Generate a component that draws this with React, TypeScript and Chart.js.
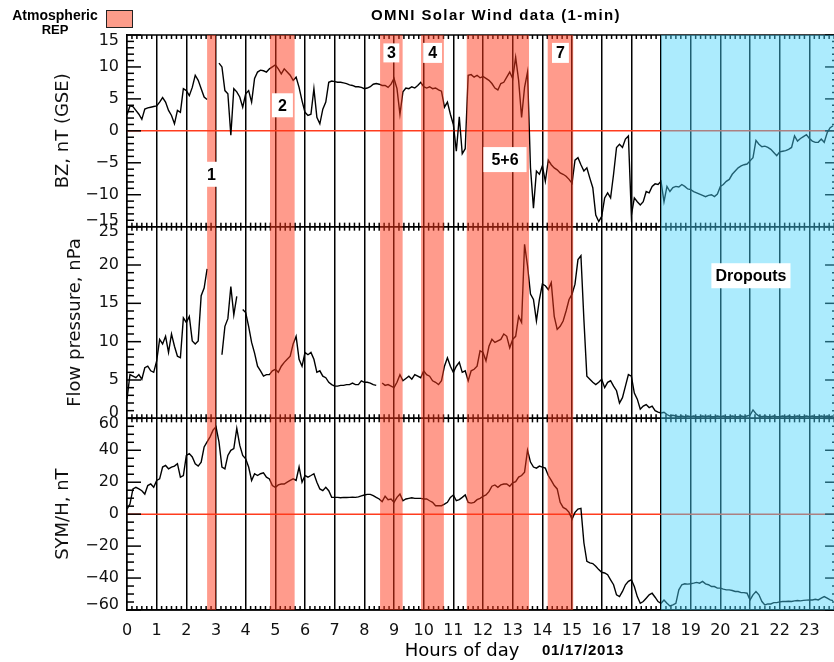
import React, { useEffect, useRef } from 'react';
import { Chart, registerables } from 'chart.js';

Chart.register(...registerables);

// ---------------- data ----------------
// sample times in hours of day (every 6 minutes, 0.0 .. 23.8)
const HOURS: number[] = Array.from({ length: 239 }, (_, i) => i / 10);
const HOUR_TICKS: number[] = [0, 1, 2, 3, 4, 5, 6, 7, 8, 9, 10, 11, 12, 13, 14, 15, 16, 17, 18, 19, 20, 21, 22, 23];

// BZ (GSE), nT
const BZ_GSE: (number | null)[] = [
  2.5, 3.9, 3.8, 3.2, 2.6, 1.8, 3.4, 3.6, 3.7, 3.8,
  3.9, 4.5, 5.2, 4.5, 3.2, 2.4, 1.1, 3.2, 2.9, 6.6,
  6.3, 5.5, 6.8, 8.7, 7.9, 6.6, 5.3, 4.9, null, null,
  null, 10.6, 10.0, 6.3, 5.8, -0.7, 6.6, 6.1, 5.3, 3.7,
  5.8, 6.3, 4.5, 8.2, 9.2, 9.5, 9.4, 9.2, 9.7, 10.0,
  10.3, 9.7, 8.9, 9.7, 9.2, 8.7, 7.9, 8.4, 6.8, 4.7,
  2.9, 2.4, 2.6, 6.6, 2.1, 1.1, 3.4, 4.5, 7.6, 7.8,
  7.7, 7.6, 7.6, 7.5, 7.4, 7.2, 7.1, 6.9, 6.9, 6.8,
  6.6, 6.7, 6.9, 7.3, 7.4, 7.3, 7.1, 7.1, 6.8, 7.3,
  8.2, 6.6, 2.6, 6.1, 6.7, 6.6, 6.9, 6.7, 7.1, 7.6,
  6.9, 6.7, 6.9, 6.6, 6.7, 6.4, 6.2, 3.7, 4.5, 2.6,
  1.0, -3.2, 2.2, -3.6, -2.8, 8.7, 8.8, 8.4, 8.7, 8.3,
  8.5, 8.2, 7.9, 7.4, 6.7, 6.4, 7.4, 7.6, 8.4, 9.2,
  8.2, 11.5, 7.9, 2.1, 6.8, 9.2, -5.8, -12.1, -6.3, -6.8,
  -5.5, -7.9, -4.6, -5.3, -5.8, -6.1, -6.6, -6.8, -7.1, -7.6,
  -8.2, -4.6, -4.2, -5.3, -6.3, -5.8, -7.4, -8.9, -13.2, -14.2,
  -13.4, -10.5, -9.7, -10.5, -6.8, -2.6, -2.1, -2.6, -1.3, -0.8,
  -13.2, -10.5, -11.1, -11.6, -11.1, -9.5, -9.7, -8.7, -8.3, -8.4,
  -7.9, -11.1, -8.7, -9.5, -8.9, -8.7, -8.8, -8.4, -8.7, -9.1,
  -9.2, -9.5, -9.7, -9.9, -10.1, -10.3, -10.1, -10.0, -10.3, -9.9,
  -8.7, -8.4, -7.9, -7.6, -6.8, -6.3, -5.8, -5.5, -5.3, -5.2,
  -4.7, -4.2, -1.5, -2.1, -2.5, -2.4, -2.6, -2.9, -3.4, -3.9,
  -3.3, -3.2, -3.1, -2.9, -2.6, -0.8, -1.6, -1.2, -0.9, -0.6,
  -1.2, -1.6, -1.8, -1.8, -1.3, -1.8, -0.3, 0.5, 0.8,
];

// Flow pressure, nPa
const FLOW_PRESSURE: (number | null)[] = [
  2.5, 5.7, 5.5, 5.3, 5.7, 5.1, 6.6, 6.8, 6.2, 6.0,
  7.5, 10.3, 9.7, 10.7, 8.6, 11.0, 9.4, 8.1, 7.9, 13.1,
  12.5, 13.3, 10.1, 9.7, 10.1, 16.0, 17.0, 19.5, null, null,
  null, null, 8.3, 12.0, 13.0, 17.2, 13.5, 15.9, null, 14.2,
  13.8, 12.0, 9.9, 8.5, 6.8, 6.2, 5.5, 5.7, 5.7, 6.2,
  6.4, 6.0, 6.8, 7.3, 7.7, 8.1, 9.7, 10.7, 7.7, 6.8,
  8.6, 8.3, 8.6, 7.7, 6.0, 6.2, 5.5, 5.3, 4.7, 4.4,
  4.2, 4.2, 4.3, 4.3, 4.4, 4.4, 4.6, 4.4, 4.4, 4.9,
  4.7, 4.7, 4.6, 4.4, 4.3, null, 4.6, 4.3, 4.4, 4.2,
  4.0, 4.7, 5.7, 4.9, 5.2, 5.5, 5.1, 5.7, 5.5, 5.3,
  6.2, 5.7, 5.5, 4.9, 4.7, 4.4, 4.9, 6.8, 7.9, 6.8,
  6.0, 6.8, 7.3, 6.0, 6.2, 4.9, 6.2, 6.4, 6.8, 8.8,
  8.6, 7.5, 9.4, 10.3, 9.9, 10.1, 10.3, 11.0, 10.7, 9.2,
  10.3, 10.7, 13.3, 12.5, 22.7, 19.9, 16.2, 15.5, 12.7, 15.5,
  17.5, 17.3, 16.8, 17.7, 13.3, 11.6, 12.0, 12.7, 14.0, 15.5,
  16.2, 17.5, 20.7, 21.2, 12.9, 5.5, 5.1, 4.7, 4.4, 4.7,
  5.1, 4.0, 4.7, 4.9, 4.2, 3.6, 2.0, 2.7, 4.2, 5.7,
  5.5, 3.3, 2.5, 1.2, 1.6, 1.8, 1.4, 1.6, 1.0, 0.8,
  0.7, 0.8, 0.5, 0.3, 0.4, 0.3, 0.2, 0.3, 0.2, 0.3,
  0.2, 0.3, 0.2, 0.2, 0.3, 0.2, 0.3, 0.2, 0.2, 0.3,
  0.2, 0.3, 0.2, 0.2, 0.3, 0.2, 0.2, 0.3, 0.2, 0.3,
  0.4, 1.1, 0.6, 0.3, 0.2, 0.3, 0.2, 0.2, 0.3, 0.2,
  0.2, 0.3, 0.2, 0.3, 0.2, 0.2, 0.3, 0.2, 0.2, 0.3,
  0.2, 0.3, 0.2, 0.2, 0.3, 0.2, 0.3, 0.2, 0.3,
];

// SYM/H, nT
const SYM_H: (number | null)[] = [
  3.2, 6.3, 15.8, 16.8, 15.8, 14.7, 12.6, 17.9, 18.9, 16.8,
  21.1, 22.1, 29.5, 30.5, 28.4, 29.5, 30.1, 31.6, 23.2, 24.2,
  36.8, 37.9, 35.8, 31.6, 30.1, 32.6, 42.1, 45.3, 48.4, 52.6,
  54.7, 45.3, 29.5, 28.4, 36.8, 40.0, 41.1, 53.7, 43.2, 36.8,
  34.7, 29.5, 21.1, 25.3, 24.2, 25.3, 25.9, 23.2, 22.1, 17.9,
  16.8, 18.3, 18.9, 18.9, 20.0, 21.1, 22.1, 21.1, 29.5, 20.0,
  24.2, 23.2, 24.2, 25.3, 20.0, 15.8, 14.7, 16.8, 14.7, 10.5,
  10.5, 10.5, 10.3, 10.5, 10.4, 10.5, 10.6, 10.5, 10.8, 11.4,
  12.0, 12.4, 12.4, 11.6, 10.5, 9.5, 7.8, 11.2, 9.1, 9.5,
  7.4, 10.5, 12.6, 8.4, 9.5, 9.9, 10.3, 9.9, 9.9, 9.9,
  9.5, 9.5, 8.4, 7.4, 5.3, 5.3, 5.3, 6.3, 7.4, 10.5,
  12.0, 8.4, 9.1, 10.5, 12.0, 7.4, 6.9, 7.4, 9.1, 9.9,
  11.2, 12.0, 14.1, 17.5, 18.3, 16.8, 18.3, 18.9, 18.9, 17.5,
  19.6, 20.4, 23.2, 24.2, 26.3, 40.0, 32.6, 29.5, 28.8, 30.1,
  29.5, 28.8, 24.2, 21.1, 17.9, 15.8, 7.4, 4.2, 3.2, 1.1,
  -3.2, 1.1, 3.2, 3.6, -17.9, -29.5, -30.5, -30.9, -32.6, -34.7,
  -36.4, -36.8, -37.9, -41.1, -44.2, -50.5, -51.6, -48.4, -44.2, -42.1,
  -41.1, -45.3, -51.6, -55.8, -54.7, -52.6, -50.5, -49.5, -52.0, -54.7,
  -55.8, -53.7, -55.8, -57.5, -56.8, -55.8, -47.4, -44.2, -43.6, -43.8,
  -43.6, -43.2, -42.7, -43.2, -42.1, -43.6, -44.2, -45.3, -45.3, -46.3,
  -46.3, -46.9, -47.4, -47.4, -47.8, -48.4, -48.4, -49.1, -49.1, -49.5,
  -53.7, -50.5, -48.4, -50.5, -54.7, -56.8, -56.2, -56.2, -55.4, -55.4,
  -54.9, -54.7, -54.7, -54.5, -54.7, -54.3, -54.1, -54.3, -54.0, -53.8,
  -53.7, -53.7, -53.3, -53.7, -52.6, -51.6, -52.6, -53.7, -54.1,
];

// Atmospheric REP intervals (hours)
const REP_STARTS: number[] = [2.7, 4.82, 8.53, 9.91, 11.45, 14.18];
const REP_ENDS: number[] = [3.0, 5.65, 9.29, 10.68, 13.55, 15.04];
const DROPOUT_START = 18;
const DROPOUT_END = 24;

// annotations
const NOTE_TEXTS: string[] = ['1', '2', '3', '4', '5+6', '7', 'Dropouts'];
const NOTE_HOURS: number[] = [2.85, 5.24, 8.91, 10.3, 12.74, 14.61, 21.03];
const NOTE_AXES: string[] = ['yBz', 'yBz', 'yBz', 'yBz', 'yBz', 'yBz', 'yP'];
const NOTE_VALUES: number[] = [-6.8, 4.0, 12.2, 12.2, -4.5, 12.2, 18.6];
const NOTE_PAD_X: number[] = [4, 6, 3.5, 5, 8, 4, 4];
const NOTE_BOX_H: number[] = [25, 24, 19, 20, 25, 20, 25];

// ---------------- styles ----------------
const REP_FILL = 'rgba(255,55,25,0.5)';
const DROPOUT_FILL = 'rgba(70,210,250,0.45)';
const ZERO_COLOR = '#ff3c1e';
const AXIS_FONT = 'DejaVu Sans';
const BOLD_FONT = 'Liberation Sans';

const PANELS = [
  { id: 'yBz', major: 5, minor: 1 },
  { id: 'yP', major: 5, minor: 1 },
  { id: 'ySym', major: 20, minor: 5 },
];

const fmt = (v: number) => (v < 0 ? '\u2212' + Math.abs(v) : String(v));
const edgeLabel = (value: number, index: number, ticks: any[]) => {
  const s = fmt(value);
  if (index === 0) return [s, ''];
  if (index === ticks.length - 1) return ['', s];
  return s;
};

const decorPlugin = {
  id: 'omniDecor',
  beforeDatasetsDraw(chart: any) {
    const { ctx, chartArea: ca, scales } = chart;
    const xs = scales.x;
    const xRight = xs.getPixelForValue(24);
    ctx.save();
    // zero lines
    ctx.strokeStyle = ZERO_COLOR;
    ctx.lineWidth = 1.5;
    for (const id of ['yBz', 'ySym']) {
      const y = scales[id].getPixelForValue(0);
      ctx.beginPath();
      ctx.moveTo(ca.left, y);
      ctx.lineTo(ca.right, y);
      ctx.stroke();
    }
    ctx.strokeStyle = '#000';
    ctx.lineWidth = 1.5;
    const seg = (x0: number, y0: number, x1: number, y1: number) => {
      ctx.beginPath();
      ctx.moveTo(x0, y0);
      ctx.lineTo(x1, y1);
      ctx.stroke();
    };
    for (const p of PANELS) {
      const s = scales[p.id];
      seg(ca.left, s.top, ca.right, s.top);
      seg(ca.left, s.bottom, ca.right, s.bottom);
      for (let m = 1; m < 24 * 6; m++) {
        if (m % 6 === 0) continue;
        const px = xs.getPixelForValue(m / 6);
        if (px > ca.right + 1) break;
        seg(px, s.top, px, s.top + 4);
        seg(px, s.bottom, px, s.bottom - 4);
      }
      const n = Math.round((s.max - s.min) / p.minor);
      for (let k = 0; k <= n; k++) {
        const v = s.min + k * p.minor;
        const py = s.getPixelForValue(v);
        const isMajor = Math.abs(v / p.major - Math.round(v / p.major)) < 1e-6;
        const len = isMajor ? 14 : 7;
        seg(ca.left, py, ca.left + len, py);
        seg(xRight, py, xRight - len, py);
      }
    }
    ctx.restore();
  },
  afterDatasetsDraw(chart: any) {
    const { ctx, chartArea: ca, scales } = chart;
    const xs = scales.x;
    ctx.save();
    ctx.fillStyle = REP_FILL;
    REP_STARTS.forEach((b, i) => {
      const x0 = xs.getPixelForValue(b);
      const x1 = xs.getPixelForValue(REP_ENDS[i]);
      ctx.fillRect(x0, ca.top, x1 - x0, ca.bottom - ca.top);
    });
    ctx.fillStyle = DROPOUT_FILL;
    const d0 = xs.getPixelForValue(DROPOUT_START);
    const d1 = Math.min(xs.getPixelForValue(DROPOUT_END), chart.width);
    ctx.fillRect(d0, ca.top, d1 - d0, ca.bottom - ca.top);

    ctx.font = `bold 16px "${BOLD_FONT}", Arial, sans-serif`;
    ctx.textAlign = 'center';
    ctx.textBaseline = 'middle';
    NOTE_TEXTS.forEach((t, i) => {
      const cx = xs.getPixelForValue(NOTE_HOURS[i]);
      const cy = scales[NOTE_AXES[i]].getPixelForValue(NOTE_VALUES[i]);
      const w = ctx.measureText(t).width + 2 * NOTE_PAD_X[i];
      const h = NOTE_BOX_H[i];
      ctx.fillStyle = '#fff';
      ctx.fillRect(cx - w / 2, cy - h / 2, w, h);
      ctx.fillStyle = '#000';
      ctx.fillText(t, cx, cy + 1);
    });
    ctx.restore();
  },
  afterDraw(chart: any) {
    const { ctx } = chart;
    ctx.save();
    ctx.fillStyle = '#000';
    ctx.textBaseline = 'alphabetic';
    // title
    ctx.textAlign = 'center';
    ctx.font = `bold 15px "${BOLD_FONT}", Arial, sans-serif`;
    try { (ctx as any).letterSpacing = '1.4px'; } catch (e) {}
    ctx.fillText('OMNI Solar Wind data (1-min)', 496, 20);
    try { (ctx as any).letterSpacing = '0px'; } catch (e) {}
    // legend
    ctx.font = `bold 14px "${BOLD_FONT}", Arial, sans-serif`;
    ctx.fillText('Atmospheric', 55, 20);
    ctx.font = `bold 13px "${BOLD_FONT}", Arial, sans-serif`;
    ctx.fillText('REP', 55, 34);
    ctx.fillStyle = 'rgb(252,156,138)';
    ctx.fillRect(106, 10, 27, 18);
    ctx.strokeStyle = '#222';
    ctx.lineWidth = 1;
    ctx.strokeRect(106.5, 10.5, 26, 17);
    // x-axis titles
    ctx.fillStyle = '#000';
    ctx.font = `18px "${AXIS_FONT}", sans-serif`;
    ctx.fillText('Hours of day', 462, 656);
    ctx.textAlign = 'left';
    ctx.font = `bold 15px "${BOLD_FONT}", Arial, sans-serif`;
    try { (ctx as any).letterSpacing = '0.7px'; } catch (e) {}
    ctx.fillText('01/17/2013', 542, 655);
    try { (ctx as any).letterSpacing = '0px'; } catch (e) {}
    ctx.restore();
  },
};

const lineStyle = {
  borderColor: '#000',
  borderWidth: 1.4,
  pointRadius: 0,
  tension: 0,
  fill: false,
  spanGaps: false,
};

const yTickFont = { family: AXIS_FONT, size: 16, lineHeight: 0.7 };
const yTitleFont = { family: AXIS_FONT, size: 18 };

function yScale(min: number, max: number, step: number, weight: number, title: string, titlePad: number) {
  return {
    type: 'linear',
    position: 'left',
    stack: 'panels',
    stackWeight: 1,
    weight,
    min,
    max,
    afterFit: (s: any) => {
      s.width = 127;
    },
    grid: { display: false, drawTicks: false, tickLength: 0 },
    border: { display: true, color: '#000', width: 1.5 },
    ticks: {
      stepSize: step,
      autoSkip: false,
      padding: 8,
      color: '#111',
      font: yTickFont,
      callback: edgeLabel,
    },
    title: {
      display: true,
      text: title,
      color: '#111',
      font: yTitleFont,
      padding: { top: titlePad, bottom: 0 },
    },
  };
}

export default function App() {
  const canvasRef = useRef<HTMLCanvasElement | null>(null);

  useEffect(() => {
    const canvas = canvasRef.current;
    if (!canvas) return;
    const chart = new Chart(canvas, {
      type: 'line',
      data: {
        datasets: [
          { label: 'BZ', yAxisID: 'yBz', data: HOURS.map((h, i) => ({ x: h, y: BZ_GSE[i] })), ...lineStyle },
          { label: 'Flow pressure', yAxisID: 'yP', data: HOURS.map((h, i) => ({ x: h, y: FLOW_PRESSURE[i] })), ...lineStyle },
          { label: 'SYM/H', yAxisID: 'ySym', data: HOURS.map((h, i) => ({ x: h, y: SYM_H[i] })), ...lineStyle },
        ],
      } as any,
      options: {
        animation: false,
        responsive: false,
        devicePixelRatio: 1,
        events: [],
        layout: { padding: { top: 35, left: 0, right: 0, bottom: 0 } },
        plugins: {
          legend: { display: false },
          title: { display: false },
          tooltip: { enabled: false },
        },
        scales: {
          x: {
            type: 'linear',
            position: 'bottom',
            min: 0,
            max: 23.83,
            afterBuildTicks: (s: any) => {
              s.ticks = HOUR_TICKS.map((v) => ({ value: v }));
            },
            afterFit: (s: any) => {
              s.height = 52;
            },
            grid: { color: '#000', lineWidth: 1.5, drawTicks: false, tickLength: 0, drawOnChartArea: true },
            border: { display: true, color: '#000', width: 1.5 },
            ticks: {
              autoSkip: false,
              maxRotation: 0,
              padding: 11,
              color: '#111',
              font: { family: AXIS_FONT, size: 16 },
              callback: (v: any) => String(v),
            },
          },
          ySym: yScale(-60, 60, 20, 1, 'SYM/H, nT', 53),
          yP: yScale(0, 25, 5, 2, 'Flow pressure, nPa', 65),
          yBz: yScale(-15, 15, 5, 3, 'BZ, nT (GSE)', 53),
        } as any,
      },
      plugins: [decorPlugin],
    } as any);
    return () => chart.destroy();
  }, []);

  return (
    <div style={{ position: 'absolute', left: 0, top: 0, width: 834, height: 662, background: '#fff' }}>
      <canvas ref={canvasRef} width={834} height={662} style={{ display: 'block', width: 834, height: 662 }} />
    </div>
  );
}
